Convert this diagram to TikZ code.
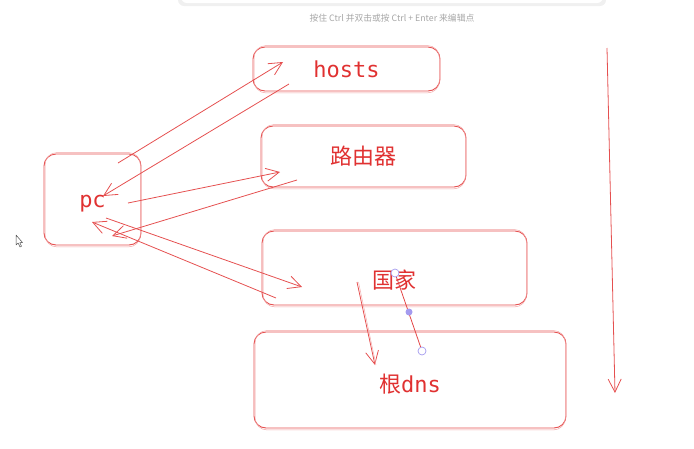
\documentclass[tikz,border=0pt]{standalone}
\usepackage{fontspec}
\setmonofont{DejaVu Sans Mono}
\newfontfamily\cjk{Noto Sans CJK SC}
\usetikzlibrary{arrows.meta}
\definecolor{sketchred}{HTML}{E03131}
\definecolor{handlepurple}{HTML}{A49BEF}

\begin{document}
\begin{tikzpicture}[x=1pt, y=-1pt,
    box/.style={draw=sketchred!85, rounded corners=12pt, line width=0.9pt,
      text=sketchred, font=\ttfamily\fontsize{22}{24}\selectfont, inner sep=0pt},
    link/.style={draw=sketchred!85, line width=0.8pt,
      -{Straight Barb[length=13pt, width=13pt]}},
    handledot/.style={circle, draw=handlepurple, fill=white, line width=0.7pt,
      inner sep=0pt, minimum size=8pt}]

    % page size
    \useasboundingbox (0,0) rectangle (694,448);

    % Toolbar at the top (cut off)
    \fill[black!6, rounded corners=6pt] (178,-12) rectangle (606,6);
    \fill[white, rounded corners=6pt] (181,-12) rectangle (603,3);
    \node[text=black!35, font=\cjk\fontsize{8.8}{10}\selectfont] (hint) at (392,18)
        {按住 Ctrl 并双击或按 Ctrl + Enter 来编辑点};

    % Boxes
    \node[box, minimum width=187pt, minimum height=44pt] (hosts) at (346.5,69) {hosts};
    \node[box, minimum width=205pt, minimum height=61pt] (router) at (363.5,156.5) {\cjk 路由器};
    \node[box, minimum width=97pt, minimum height=91pt] (pc) at (92.5,199.5)
        {\raisebox{-8pt}[0pt][0pt]{pc}};
    \node[box, minimum width=265pt, minimum height=74pt] (country) at (394.5,268)
        {\raisebox{-20pt}[0pt][0pt]{\cjk 国家}};
    \node[box, minimum width=312pt, minimum height=96pt] (rootdns) at (410,380)
        {\raisebox{-12pt}[0pt][0pt]{{\cjk 根}dns}};

    % second rough stroke of each box
    \foreach \n in {hosts,router,pc,country,rootdns}
        \draw[sketchred!45, rounded corners=12pt, line width=0.5pt]
            ([shift={(1.5,-1)}]\n.north west) rectangle ([shift={(-1,1.5)}]\n.south east);

    % Arrow end points
    \coordinate (pcA) at (118,163);    \coordinate (hostsIn) at (283,62);
    \coordinate (hostsOut) at (289,84); \coordinate (pcB) at (103,196);
    \coordinate (pcC) at (128,203);    \coordinate (routerIn) at (280,172);
    \coordinate (routerOut) at (297,180); \coordinate (pcD) at (112,236);
    \coordinate (pcE) at (106,218);    \coordinate (countryIn) at (302,287);
    \coordinate (countryOut) at (276,298); \coordinate (pcF) at (92,222);
    \coordinate (countryDown) at (357,282); \coordinate (rootIn) at (375,365);
    \coordinate (sideTop) at (607,48); \coordinate (sideEnd) at (615,393);

    % Queries
    \draw[link] (pcA) -- (hostsIn);
    \draw[link] (hostsOut) -- (pcB);
    \draw[link] (pcC) -- (routerIn);
    \draw[link] (routerOut) -- (pcD);
    \draw[link] (pcE) -- (countryIn);
    \draw[link] (countryOut) -- (pcF);
    \draw[link] (countryDown) -- (rootIn);
    \draw[sketchred!40, line width=0.5pt] ([xshift=1.5pt]countryDown) -- ([xshift=1pt]rootIn);
    \draw[link] (sideTop) -- (sideEnd);

    % Selected line with its edit handles
    \draw[sketchred!90, line width=0.8pt] (395,273) -- (422,351);
    \node[handledot] (handleA) at (395,273) {};
    \node[handledot] (handleB) at (422,351) {};
    \node[circle, fill=handlepurple, inner sep=0pt, minimum size=7pt] (handleMid) at (409,312) {};

    % Mouse cursor
    \draw[black!70, fill=white, line width=0.5pt, line join=round]
        (16,235) -- (16,245) -- (18.2,243) -- (20,247) -- (21.5,246.3) -- (19.8,242.5) -- (22.5,242.5) -- cycle;
\end{tikzpicture}
\end{document}
